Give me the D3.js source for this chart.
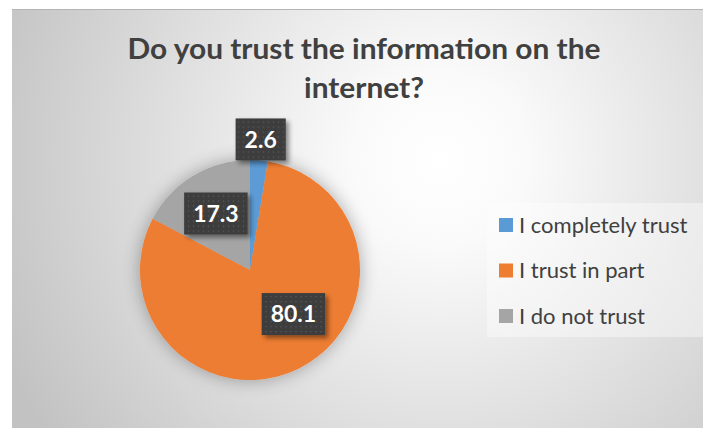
<!DOCTYPE html>
<html>
<head>
<meta charset="utf-8">
<script src="https://cdn.jsdelivr.net/npm/d3@7"></script>
<style>
  html, body { margin: 0; padding: 0; background: #ffffff; }
  svg { display: block; }
</style>
</head>
<body>
<div id="chart"></div>
<script>
// Chart data
const categories = ["I completely trust", "I trust in part", "I do not trust"];
const values = [2.6, 80.1, 17.3];
const colors = ["#5B9BD5", "#ED7D31", "#A5A5A5"];
const titleLines = ["Do you trust the information on the", "internet?"];

// Label placement (radius from center + small nudge), like Excel's best fit
const labelRadius = [131, 66, 66];
const labelNudge = [[0, 0], [14, -15], [0, 0]];

const width = 703;
const height = 428;
const frame = { left: 12, top: 9 };
const center = { x: 250, y: 270 };
const radius = 110;

const svg = d3.select("#chart")
    .append("svg")
    .attr("width", width)
    .attr("height", height)
    .attr("viewBox", `0 0 ${width} ${height}`);

const defs = svg.append("defs");

// Background radial gradient
const bg = defs.append("radialGradient")
    .attr("id", "bg-grad")
    .attr("gradientUnits", "userSpaceOnUse")
    .attr("cx", 440).attr("cy", 160).attr("r", 480);
bg.append("stop").attr("offset", "0%").attr("stop-color", "#ffffff");
bg.append("stop").attr("offset", "18%").attr("stop-color", "#fafafa");
bg.append("stop").attr("offset", "100%").attr("stop-color", "#c2c2c2");

// Soft shadow around the pie
const pieShadow = defs.append("filter")
    .attr("id", "pie-shadow")
    .attr("x", "-30%").attr("y", "-30%")
    .attr("width", "160%").attr("height", "160%");
pieShadow.append("feGaussianBlur")
    .attr("in", "SourceAlpha").attr("stdDeviation", 9).attr("result", "blur");
pieShadow.append("feComponentTransfer").attr("in", "blur").attr("result", "soft")
    .append("feFuncA").attr("type", "linear").attr("slope", 0.32);
const pm = pieShadow.append("feMerge");
pm.append("feMergeNode").attr("in", "soft");
pm.append("feMergeNode").attr("in", "SourceGraphic");

// Shadow for data label boxes
const boxShadow = defs.append("filter")
    .attr("id", "box-shadow")
    .attr("x", "-30%").attr("y", "-30%")
    .attr("width", "160%").attr("height", "160%");
boxShadow.append("feGaussianBlur")
    .attr("in", "SourceAlpha").attr("stdDeviation", 2.5).attr("result", "blur");
boxShadow.append("feOffset").attr("in", "blur").attr("dx", 3).attr("dy", 3).attr("result", "off");
boxShadow.append("feComponentTransfer").attr("in", "off").attr("result", "soft")
    .append("feFuncA").attr("type", "linear").attr("slope", 0.45);
const bm = boxShadow.append("feMerge");
bm.append("feMergeNode").attr("in", "soft");
bm.append("feMergeNode").attr("in", "SourceGraphic");

// Dotted pattern for label boxes
const dots = defs.append("pattern")
    .attr("id", "dots")
    .attr("patternUnits", "userSpaceOnUse")
    .attr("width", 5).attr("height", 5);
dots.append("rect").attr("width", 5).attr("height", 5).attr("fill", "#3d3d3d");
dots.append("rect").attr("x", 2).attr("y", 2).attr("width", 1.2).attr("height", 1.2).attr("fill", "#5e5e5e");

// Chart area
svg.append("rect")
    .attr("x", frame.left)
    .attr("y", frame.top)
    .attr("width", width - frame.left)
    .attr("height", height - frame.top)
    .attr("fill", "url(#bg-grad)");

svg.append("line")
    .attr("x1", frame.left).attr("x2", width)
    .attr("y1", frame.top + 0.5).attr("y2", frame.top + 0.5)
    .attr("stroke", "#b4b4b4").attr("stroke-width", 1);

// Title
const title = svg.append("g")
    .style("font-family", "Lato, 'Open Sans', sans-serif")
    .style("font-weight", "bold")
    .style("font-size", "28px")
    .attr("fill", "#404040");

const titleNodes = title.selectAll("text")
    .data(titleLines)
    .join("text")
    .attr("x", 364)
    .attr("y", (d, i) => 59 + i * 39)
    .attr("text-anchor", "middle")
    .text(d => d);

// squeeze to a Calibri-like width
const titleK = 473 / titleNodes.nodes()[0].getComputedTextLength();
titleNodes.each(function() {
    const len = this.getComputedTextLength();
    d3.select(this)
        .attr("textLength", len * titleK)
        .attr("lengthAdjust", "spacingAndGlyphs");
});

// Pie
const pie = d3.pie().sort(null).value(d => d);
const arcs = pie(values);

const arc = d3.arc().innerRadius(0).outerRadius(radius);

const pieG = svg.append("g")
    .attr("transform", `translate(${center.x},${center.y})`);

pieG.append("g")
    .attr("filter", "url(#pie-shadow)")
    .selectAll("path")
    .data(arcs)
    .join("path")
    .attr("d", arc)
    .attr("fill", (d, i) => colors[i]);

// Data labels
const labels = pieG.selectAll("g.label")
    .data(arcs)
    .join("g")
    .attr("class", "label")
    .attr("transform", (d, i) => {
        const c = d3.arc().innerRadius(labelRadius[i]).outerRadius(labelRadius[i]).centroid(d);
        return `translate(${c[0] + labelNudge[i][0]},${c[1] + labelNudge[i][1]})`;
    });

const boxes = labels.append("rect")
    .attr("fill", "url(#dots)")
    .attr("filter", "url(#box-shadow)");

const labelText = labels.append("text")
    .attr("text-anchor", "middle")
    .attr("dy", "0.36em")
    .style("font-family", "Lato, 'Open Sans', sans-serif")
    .style("font-weight", "bold")
    .style("font-size", "23px")
    .attr("fill", "#ffffff")
    .text(d => d.data);

labelText.each(function(d, i) {
    const w = this.getComputedTextLength() + 18;
    d3.select(boxes.nodes()[i])
        .attr("x", -w / 2)
        .attr("y", -21)
        .attr("width", w)
        .attr("height", 42);
});

// Legend
const legend = svg.append("g");

legend.append("rect")
    .attr("x", 487)
    .attr("y", 203)
    .attr("width", width - 487)
    .attr("height", 134)
    .attr("fill", "#ffffff")
    .attr("fill-opacity", 0.4);

const legendY = d3.scalePoint()
    .domain(categories)
    .range([225, 316]);

const items = legend.selectAll("g.item")
    .data(categories)
    .join("g")
    .attr("class", "item")
    .attr("transform", d => `translate(499,${legendY(d)})`);

items.append("rect")
    .attr("x", 0)
    .attr("y", -7)
    .attr("width", 14)
    .attr("height", 14)
    .attr("fill", (d, i) => colors[i]);

items.append("text")
    .attr("x", 20)
    .attr("dy", "0.36em")
    .style("font-family", "Lato, 'Open Sans', sans-serif")
    .style("font-size", "22px")
    .attr("fill", "#404040")
    .text(d => d);
</script>
</body>
</html>
